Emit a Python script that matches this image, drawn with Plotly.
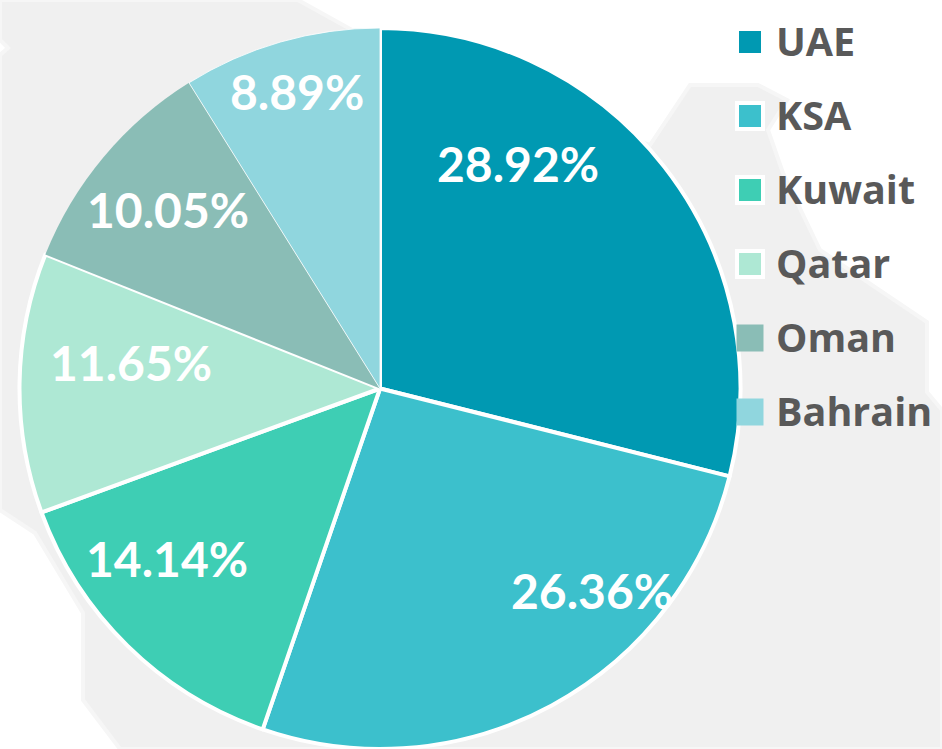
import plotly.graph_objects as go

W, H = 942, 749

# Data
categories = ["UAE", "KSA", "Kuwait", "Qatar", "Oman", "Bahrain"]
shares = [28.92, 26.36, 14.14, 11.65, 10.05, 8.89]

# Styles
colors = ["#0099B2", "#3CC0CC", "#3ECEB4", "#AEE8D4", "#8ABDB6", "#90D6DE"]
slice_widths = [4, 4, 4, 4, 0, 0.8]
label_pos = [(518, 164), (592, 590), (167, 558), (131, 362), (168, 209), (297, 91)]
legend_y = [42, 116, 190, 264, 338, 412]
swatch_half = [11, 11, 11, 11, 13.5, 13.5]
swatch_border = [0, 4, 4, 4, 0, 0]
LABEL_FONT = "Lato"
LEGEND_FONT = "Open Sans"


def px(x):
    return x / W


def py(y):
    return 1 - y / H


# Decorative map silhouette behind the chart
map_outline = [
    (0, 55), (8, 48), (0, 40), (0, 0), (298, 0), (352, 30), (650, 145), (690, 85), (758, 85), (787, 100),
    (768, 130), (783, 173), (820, 250), (927, 322), (927, 392), (942, 410),
    (942, 749), (120, 749), (83, 700), (83, 613), (35, 533), (0, 510),
]
path = "M " + " L ".join(f"{px(x):.5f},{py(y):.5f}" for x, y in map_outline) + " Z"

shapes = [dict(type="path", xref="paper", yref="paper", path=path, fillcolor="#F0F0F0",
               line=dict(color="#F6F6F6", width=4), layer="below")]
annotations = []

for v, (x, y) in zip(shares, label_pos):
    annotations.append(dict(text=f"<b>{v:.2f}%</b>", x=px(x), y=py(y), xref="paper", yref="paper",
                            xanchor="center", yanchor="middle", showarrow=False,
                            font=dict(family=LABEL_FONT, size=48, color="#FFFFFF")))

for name, c, y, h, b in zip(categories, colors, legend_y, swatch_half, swatch_border):
    cx = 750
    shapes.append(dict(type="rect", xref="paper", yref="paper", layer="above",
                       x0=px(cx - h - b), x1=px(cx + h + b), y0=py(y + h + b), y1=py(y - h - b),
                       fillcolor="#FFFFFF" if b else c, line=dict(width=0)))
    if b:
        shapes.append(dict(type="rect", xref="paper", yref="paper", layer="above",
                           x0=px(cx - h), x1=px(cx + h), y0=py(y + h), y1=py(y - h),
                           fillcolor=c, line=dict(width=0)))
    annotations.append(dict(text=f"<b>{name}</b>", x=px(774), y=py(y - 1), xref="paper", yref="paper",
                            xanchor="left", yanchor="middle", showarrow=False,
                            font=dict(family=LEGEND_FONT, size=39.5, color="#595959")))

fig = go.Figure(go.Pie(
    labels=categories, values=shares, sort=False, direction="clockwise", rotation=0,
    textinfo="none", hoverinfo="label+percent",
    marker=dict(colors=colors, line=dict(color="#FFFFFF", width=slice_widths)),
    domain=dict(x=[px(19), px(741)], y=[py(749), py(28)]),
    showlegend=False,
))
fig.update_layout(width=W, height=H, margin=dict(l=0, r=0, t=0, b=0),
                  paper_bgcolor="#FFFFFF", plot_bgcolor="#FFFFFF",
                  shapes=shapes, annotations=annotations, showlegend=False)
fig.write_html("out.html", config=dict(displayModeBar=False),
               post_script="document.body.style.margin='0';document.documentElement.style.overflow='hidden';")
